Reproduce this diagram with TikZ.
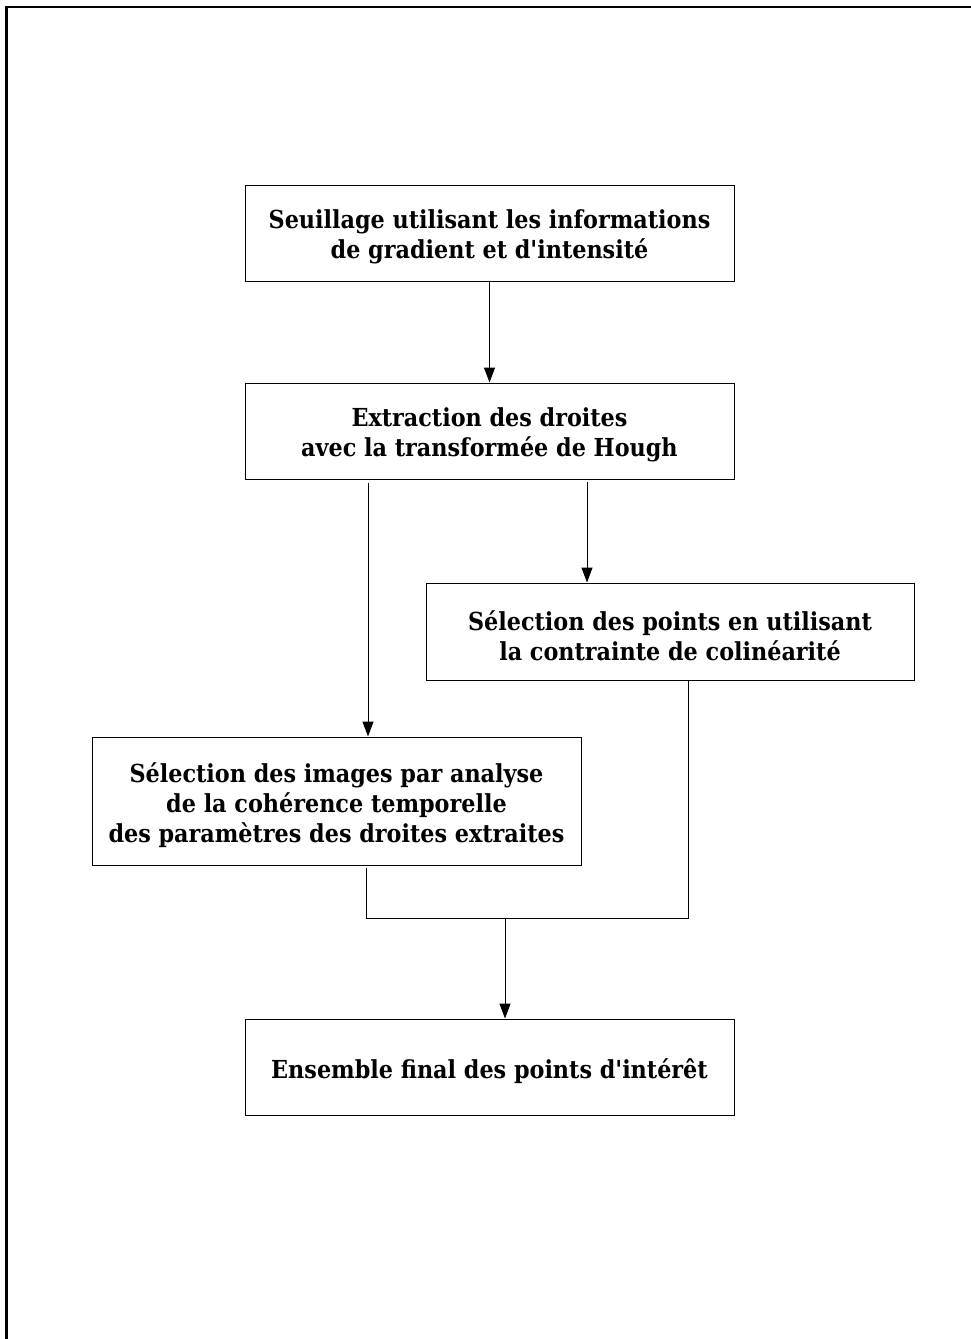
\documentclass[tikz,border=0pt]{standalone}
\usepackage{fontspec}
\setmainfont{DejaVu Serif Condensed}
\usetikzlibrary{arrows.meta,calc}
\newcommand{\apos}{\textquotesingle}
\begin{document}
\begin{tikzpicture}[x=1pt,y=-1pt,
  txt/.style={align=center,inner sep=0pt,yshift=-4pt,
    font=\fontsize{24.8}{30}\selectfont\bfseries},
  box/.style={draw,line width=1pt,minimum width=489pt,inner sep=0pt,
    label={[txt]center:#1}},
  arr/.style={line width=1pt,-{Triangle[length=15pt,width=11pt]}},
  link/.style={line width=1pt}]
\useasboundingbox (0,0) rectangle (971,1339);
\fill[white] (0,0) rectangle (971,1339);
\draw[line width=2.7pt] (6.3,1339) -- (6.3,7) -- (971,7);
\node[box={Seuillage utilisant les informations\\de gradient et d\apos intensité},minimum height=96pt] (b1) at (489.5,233) {};
\node[box={Extraction des droites\\avec la transformée de Hough},minimum height=96pt] (b2) at (489.5,431) {};
\node[box={Sélection des points en utilisant\\la contrainte de colinéarité},minimum height=97pt,minimum width=488pt] (b4) at (670,631.5) {};
\node[box={Sélection des images par analyse\\de la cohérence temporelle\\des paramètres des droites extraites},minimum height=128pt] (b3) at (336.5,801) {};
\node[box={Ensemble final des points d\apos intérêt},minimum height=96pt] (b5) at (489.5,1067) {};
\coordinate (jl) at (366,918);
\coordinate (jr) at (688,918);
\coordinate (jm) at (505,918);
\draw[arr] (b1.south) -- (b2.north);
\draw[arr] ($(b2.south)+(-121.5,3)$) -- ($(b3.north)+(31.5,0)$);
\draw[arr] ($(b2.south)+(97.5,2)$) -- ($(b4.north)+(-83,0)$);
\draw[link] ($(b3.south)+(29.5,2)$) -- (jl) -- (jr) -- (b4.south -| jr);
\draw[arr] (jm) -- (b5.north -| jm);
\end{tikzpicture}
\end{document}
